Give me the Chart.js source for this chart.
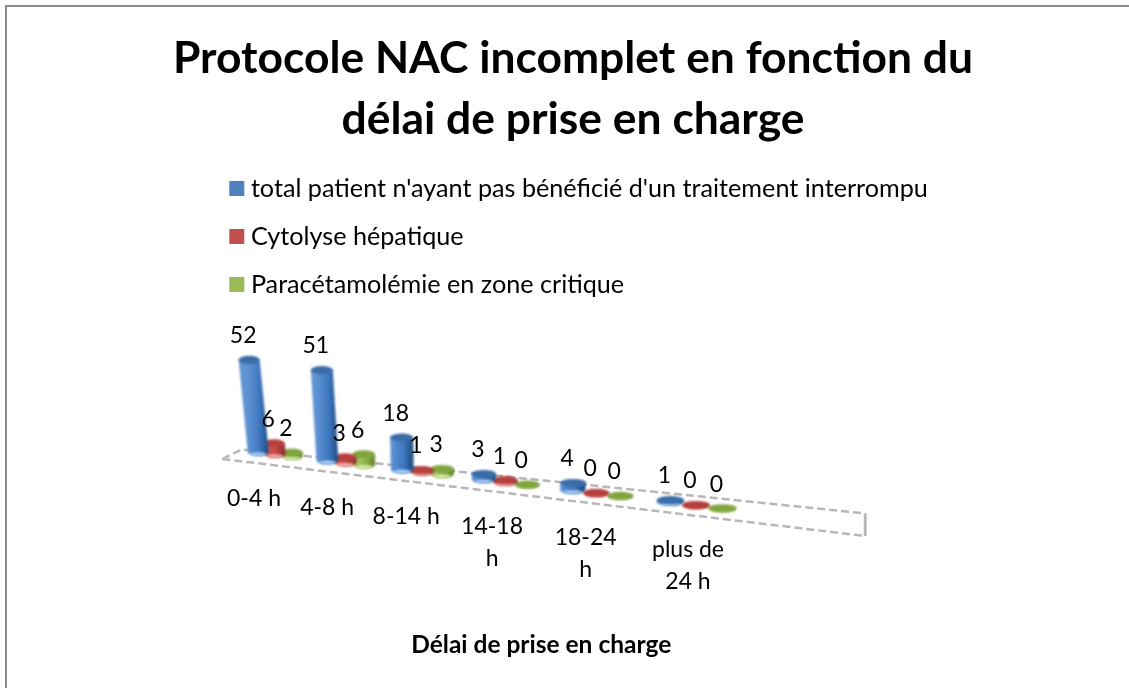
<!DOCTYPE html>
<html><head><meta charset="utf-8">
<script src="https://cdn.jsdelivr.net/npm/chart.js@4"></script>
<style>html,body{margin:0;padding:0;background:#fff}canvas{display:block}</style>
</head><body><canvas id="c" width="1129" height="688"></canvas>
<script>
const TITLE_LINES = ["Protocole NAC incomplet en fonction du", "délai de prise en charge"];
const AXIS_TITLE = "Délai de prise en charge";
const CATEGORIES = [["0-4 h"], ["4-8 h"], ["8-14 h"], ["14-18", "h"], ["18-24", "h"], ["plus de", "24 h"]];
const SERIES_NAMES = ["total patient n'ayant pas bénéficié d'un traitement interrompu", "Cytolyse hépatique", "Paracétamolémie en zone critique"];
const TOTAL = [52, 51, 18, 3, 4, 1];
const CYTOLYSE = [6, 3, 1, 1, 0, 0];
const PARACETAMOL = [2, 6, 3, 0, 0, 0];
const COLORS = ["#4F81BD", "#C0504D", "#9BBB59"];
const FONT = "Lato";

// oblique view of the chart floor: category position -> screen
const floorX = k => (275 + 57.02 * k) / (1 - 0.03905 * k);
const floorY = x => 458 + 0.121 * (x - 275);
const RY = 4;
const shades = {
  "#4F81BD": {l:"#5f93d3", m:"#3f78c0", d:"#1d4a7c", top:"#3a6ca8", hi:"#a9cdf2"},
  "#C0504D": {l:"#d9605c", m:"#c44845", d:"#8a2a28", top:"#b5403d", hi:"#eeb0ae"},
  "#9BBB59": {l:"#aecb6a", m:"#93b84c", d:"#5f7f2a", top:"#80a53f", hi:"#d5e8ac"}
};
const kOf = (chart, px) => {
  const a = chart.chartArea;
  return (px - a.left) / (a.right - a.left) * CATEGORIES.length - 0.5;
};
let activeChart = null;

function barGeometry(chart, el) {
  const k = kOf(chart, el.x), w = el.width / (chart.chartArea.right - chart.chartArea.left) * CATEGORIES.length;
  const x0 = floorX(k), y0 = floorY(x0) - RY;
  const rx = (floorX(k + w / 2) - floorX(k - w / 2)) / 2 * 0.6 + 5;
  const h = el.base - el.y;
  const xt = x0 - (440 - x0) * h / 1850;
  return {x0, y0, rx, h, xt, yt: y0 - h};
}

class CylinderBar extends Chart.BarElement {
  static id = "cylinderBar";
  draw(ctx) {
    const g = barGeometry(activeChart, this), s = shades[this.options.backgroundColor];
    ctx.save();
    ctx.filter = "blur(0.8px)";
    const grad = ctx.createLinearGradient(g.x0 - g.rx, 0, g.x0 + g.rx, 0);
    grad.addColorStop(0, s.l); grad.addColorStop(0.55, s.m); grad.addColorStop(1, s.d);
    ctx.beginPath();
    ctx.moveTo(g.xt - g.rx, g.yt);
    ctx.lineTo(g.x0 - g.rx, g.y0);
    ctx.ellipse(g.x0, g.y0, g.rx, RY, 0, Math.PI, 0, true);
    ctx.lineTo(g.xt + g.rx, g.yt);
    ctx.closePath();
    ctx.fillStyle = grad; ctx.fill();
    ctx.beginPath();
    ctx.ellipse(g.x0, g.y0 + 2, g.rx * 0.75, RY * 0.45, 0, 0, Math.PI * 2);
    ctx.fillStyle = s.hi; ctx.fill();
    ctx.beginPath();
    ctx.ellipse(g.xt, g.yt, g.rx, RY, 0, 0, Math.PI * 2);
    ctx.fillStyle = s.top; ctx.fill();
    ctx.restore();
  }
}
class CylinderController extends Chart.BarController {
  static id = "cylinder";
  static defaults = {...Chart.BarController.defaults, dataElementType: "cylinderBar"};
  draw() { activeChart = this.chart; super.draw(); }
}
Chart.register(CylinderBar, CylinderController);

const framePlugin = {
  id: "frame",
  afterLayout(chart) {
    // the legend sits over the chart area, level with its top edge, free to run past its right edge
    const l = chart.legend, d = chart.chartArea.top - l.top;
    l.top += d; l.bottom += d;
    l.right = chart.width;
    l.width = l.right - l.left;
  },
  beforeDraw(chart) {
    const c = chart.ctx;
    c.save();
    c.strokeStyle = "#8c8c8c"; c.lineWidth = 2;
    c.beginPath();
    c.moveTo(6, chart.height);
    c.lineTo(6, 6);
    c.lineTo(chart.width, 6);
    c.stroke();
    c.restore();
  }
};
const floorPlugin = {
  id: "floor",
  beforeDatasetsDraw(chart) {
    const c = chart.ctx;
    const xl = floorX(-0.8), xb = floorX(-0.5), xr = floorX(6.5);
    c.save();
    c.filter = "blur(0.5px)";
    c.strokeStyle = "#b8b8b8"; c.lineWidth = 2.5; c.setLineDash([8, 4]);
    c.beginPath();
    c.moveTo(xl, floorY(xl) + 7.4);
    c.lineTo(xb, floorY(xb) - 4.5);
    c.lineTo(xr, floorY(xr) - 16);
    c.stroke();
    c.beginPath();
    c.moveTo(xl, floorY(xl) + 7.4);
    c.lineTo(xr, floorY(xr) + 6.6);
    c.stroke();
    c.setLineDash([]); c.lineWidth = 3;
    c.beginPath();
    c.moveTo(xr, floorY(xr) - 16);
    c.lineTo(xr, floorY(xr) + 6.6);
    c.stroke();
    c.restore();
  }
};
const labelsPlugin = {
  id: "labels3d",
  afterDatasetsDraw(chart) {
    const c = chart.ctx;
    c.save();
    c.fillStyle = "#000"; c.textAlign = "center"; c.textBaseline = "middle";
    c.font = "23px " + FONT;
    chart.data.datasets.forEach((ds, i) => {
      chart.getDatasetMeta(i).data.forEach((el, j) => {
        const g = barGeometry(chart, el);
        c.fillText(String(ds.data[j]), g.xt - 6, g.yt - 24);
      });
    });
    CATEGORIES.forEach((lines, i) => {
      const k = kOf(chart, chart.scales.x.getPixelForTick(i));
      const x0 = floorX(k), y0 = floorY(x0);
      lines.forEach((t, n) => c.fillText(t, x0 - 21 + 2.6 * i, y0 + 41 + n * 32));
    });
    c.restore();
  }
};

const hiddenAxis = (position, width) => ({
  position, display: true, min: 0, max: 265,
  ticks: {display: false}, grid: {display: false}, border: {display: false},
  afterFit(s) { s.width = width; }
});

new Chart(document.getElementById("c"), {
  type: "cylinder",
  plugins: [framePlugin, floorPlugin, labelsPlugin],
  data: {
    labels: CATEGORIES,
    datasets: [
      {label: SERIES_NAMES[0], data: TOTAL, backgroundColor: COLORS[0]},
      {label: SERIES_NAMES[1], data: CYTOLYSE, backgroundColor: COLORS[1]},
      {label: SERIES_NAMES[2], data: PARACETAMOL, backgroundColor: COLORS[2]}
    ]
  },
  options: {
    responsive: false, animation: false,
    layout: {padding: {left: 17, right: 0, top: 28, bottom: 28}},
    categoryPercentage: 0.75, barPercentage: 1.1,
    plugins: {
      tooltip: {enabled: false},
      title: {
        display: true, text: TITLE_LINES, color: "#000",
        font: {family: FONT, size: 44.4, weight: "bold", lineHeight: 1.374},
        padding: {top: 0, bottom: 3}
      },
      legend: {
        position: "chartArea", align: "start", maxWidth: 800,
        labels: {
          font: {family: FONT, size: 25.2}, color: "#000",
          boxWidth: 3, boxHeight: 3, padding: 22.8,
          generateLabels: () => SERIES_NAMES.map((text, i) => ({
            text, fillStyle: COLORS[i], strokeStyle: COLORS[i], lineWidth: 12, datasetIndex: i, hidden: false
          }))
        }
      }
    },
    scales: {
      x: {
        type: "category", position: "bottom",
        grid: {display: false}, border: {display: false}, ticks: {display: false},
        title: {display: true, text: AXIS_TITLE, color: "#000", font: {family: FONT, size: 24.5, weight: "bold"}, padding: {top: 0, bottom: 0}}
      },
      y: hiddenAxis("left", 195.5),
      y2: hiddenAxis("right", 259)
    }
  }
});
</script></body></html>
